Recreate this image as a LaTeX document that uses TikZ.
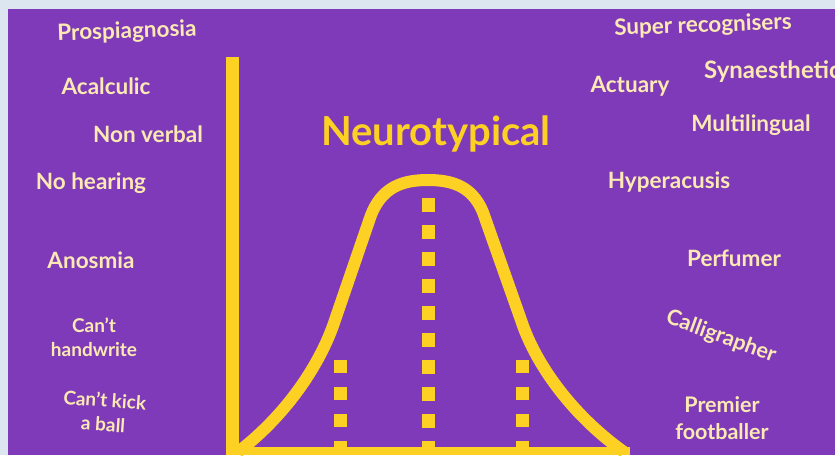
\documentclass[tikz,border=0pt]{standalone}
\usepackage{fontspec}
\setmainfont{Lato}
\definecolor{edgebg}{HTML}{DCE6F0}
\definecolor{purp}{HTML}{7E3AB8}
\definecolor{gold}{HTML}{FDD124}
\definecolor{cream}{HTML}{FCE9B4}
\newcommand{\apo}{{\char"27}}
\begin{document}
\begin{tikzpicture}[x=1pt,y=-1pt,
  lbl/.style={text=cream,font=\fontsize{22.5}{26}\selectfont\bfseries,inner sep=0pt,align=center},
  slbl/.style={text=cream,font=\fontsize{19}{24}\selectfont\bfseries,inner sep=0pt,align=center},
  mlbl/.style={text=cream,font=\fontsize{21.5}{27}\selectfont\bfseries,inner sep=0pt,align=center},
  curve/.style={draw=gold,line width=12pt},
  bar/.style={fill=gold}]
\useasboundingbox (0,0) rectangle (835,455);
\clip (0,0) rectangle (835,455);
\fill[edgebg] (0,0) rectangle (835,455);
\fill[purp] (8,9) rectangle (835,455);
% axes
\fill[bar] (226,57) rectangle (239,455);
% bell curve
\coordinate (c0) at (238,452);
\coordinate (c1) at (335,320);
\coordinate (c2) at (370,218);
\coordinate (c3) at (428,180);
\coordinate (c4) at (485,218);
\coordinate (c5) at (521,320);
\coordinate (c6) at (624,452);
\draw[curve] (c0) .. controls (290,412) and (322,360) .. (c1) -- (c2)
  .. controls (381,186) and (404,180) .. (c3)
  .. controls (452,180) and (475,186) .. (c4) -- (c5)
  .. controls (534,360) and (568,412) .. (c6);
% dashed verticals
\foreach \y in {198.3,225.3,...,445} {\fill[bar] (421.7,\y) rectangle ++(13.3,13.3);}
\foreach \y in {360,387,...,445} {\fill[bar] (334,\y) rectangle ++(13.3,13.3);
  \fill[bar] (516,\y) rectangle ++(13.3,13.3);}
\fill[bar] (226,447) rectangle (630,455);
% title
\node[text=gold,font=\fontsize{40}{44}\selectfont\bfseries,inner sep=0pt] (title) at (436,134) {Neurotypical};
% left labels
\node[lbl,rotate=2] (l1) at (127,32) {Prospiagnosia};
\node[lbl] (l2) at (106,86) {Acalculic};
\node[lbl] (l3) at (148,134) {Non verbal};
\node[lbl] (l4) at (91,183) {No hearing};
\node[lbl] (l5) at (91,260) {Anosmia};
\node[slbl] (l6) at (94,337) {Can\apo t\\handwrite};
\node[slbl,rotate=-4] (l7) at (104,412) {Can\apo t kick\\a ball};
% right labels
\node[lbl,rotate=2] (r1) at (703,26) {Super recognisers};
\node[lbl] (r2) at (630,86) {Actuary};
\node[lbl,anchor=west,font=\fontsize{24}{28}\selectfont\bfseries] (r3) at (704,72) {Synaesthetic};
\node[lbl] (r4) at (751,125) {Multilingual};
\node[lbl] (r5) at (669,182) {Hyperacusis};
\node[lbl] (r6) at (734,258) {Perfumer};
\node[mlbl,rotate=-20] (r7) at (721,337) {Calligrapher};
\node[mlbl] (r8) at (722,418) {Premier\\footballer};
\end{tikzpicture}
\end{document}
